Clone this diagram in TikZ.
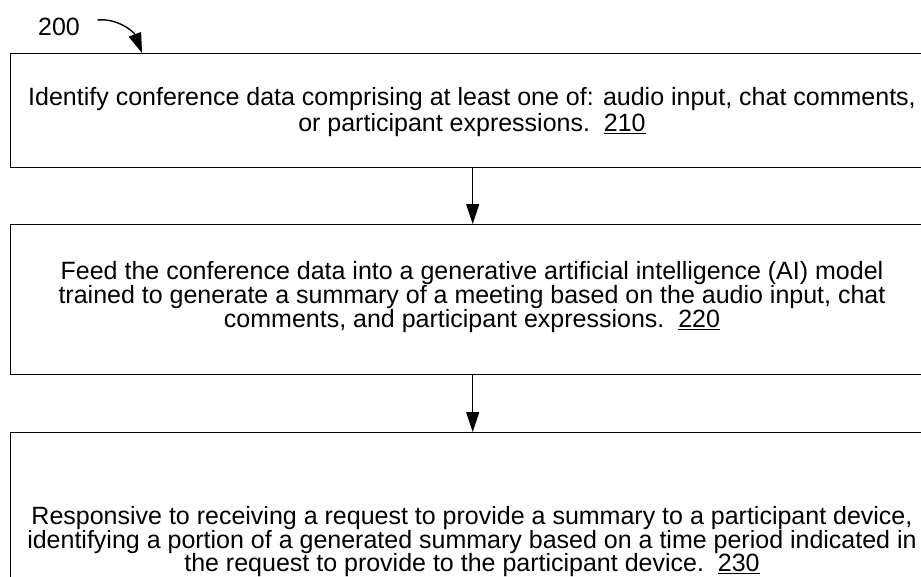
\documentclass[tikz,border=0pt]{standalone}
\usepackage{fontspec}
\setmainfont{Liberation Sans}
\usetikzlibrary{arrows.meta}
\tikzset{
  stepbox/.style={draw=black, line width=1.4pt, fill=white, minimum width=924pt,
    anchor=north west, inner sep=0pt},
  steptext/.style={align=center, font=\fontsize{25}{24}\selectfont},
  flow/.style={line width=1.4pt, -{Triangle[width=13pt,length=20pt]}},
}
\begin{document}
\begin{tikzpicture}[x=1pt,y=-1pt]
  \useasboundingbox (0,0) rectangle (921,576);
  \clip (0,0) rectangle (921,576);
  % step boxes
  \node[stepbox, minimum height=114pt] (b1) at (10,53) {};
  \node[stepbox, minimum height=150pt] (b2) at (10,224) {};
  \node[stepbox, minimum height=230pt] (b3) at (10,432) {};
  % step texts
  \node[steptext, font=\fontsize{25}{26}\selectfont] (t1) at (472,112) {Identify conference data comprising at least one of: audio input, chat comments,\\or participant expressions.~~\underline{210}};
  \node[steptext] (t2) at (472,297) {Feed the conference data into a generative artificial intelligence (AI) model\\trained to generate a summary of a meeting based on the audio input, chat\\comments, and participant expressions.~~\underline{220}};
  \node[steptext, font=\fontsize{25}{23.5}\selectfont] (t3) at (472,542) {Responsive to receiving a request to provide a summary to a participant device,\\identifying a portion of a generated summary based on a time period indicated in\\the request to provide to the participant device.~~\underline{230}};
  % figure label with its pointer
  \node[font=\fontsize{25}{25}\selectfont] (lbl) at (59,27) {200};
  \coordinate (c1) at (142,53);
  \draw[flow] ([xshift=14pt]lbl.east |- 0,20) .. controls (118,18) and (134,32) .. (c1);
  % connectors between steps
  \draw[flow] (b1.south) -- (b2.north);
  \draw[flow] (b2.south) -- (b3.north);
\end{tikzpicture}
\end{document}
